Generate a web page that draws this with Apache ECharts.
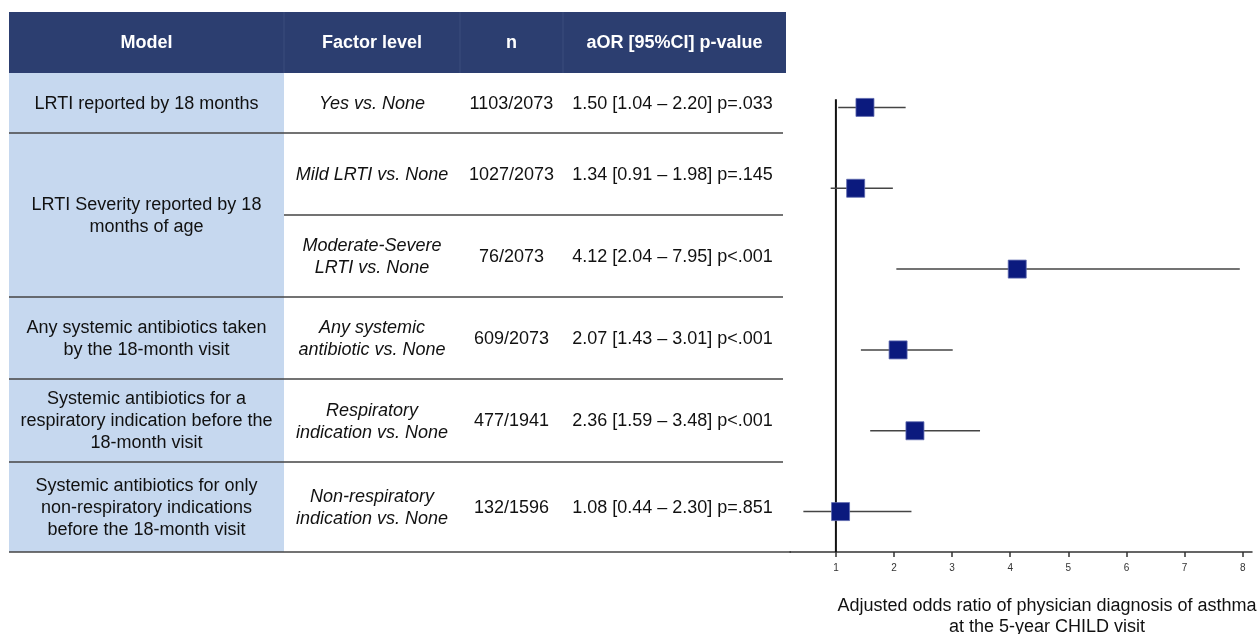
<!DOCTYPE html>
<html>
<head>
<meta charset="utf-8">
<script src="https://cdn.jsdelivr.net/npm/echarts@6/dist/echarts.min.js"></script>
<style>
	html, body { margin: 0; padding: 0; background: #fff; }
	#forest-chart { width: 1257px; height: 634px; }
</style>
</head>
<body>
<div id="forest-chart"></div>
<script>
var headers = ['Model', 'Factor level', 'n', 'aOR [95%CI] p-value'];
var models = [
	'LRTI reported by 18 months',
	'LRTI Severity reported by 18\nmonths of age',
	'Any systemic antibiotics taken\nby the 18-month visit',
	'Systemic antibiotics for a\nrespiratory indication before the\n18-month visit',
	'Systemic antibiotics for only\nnon-respiratory indications\nbefore the 18-month visit'
];
// how many factor rows each model spans
var modelSpans = [1, 2, 1, 1, 1];
var factors = [
	'Yes vs. None',
	'Mild LRTI vs. None',
	'Moderate-Severe\nLRTI vs. None',
	'Any systemic\nantibiotic vs. None',
	'Respiratory\nindication vs. None',
	'Non-respiratory\nindication vs. None'
];
var nCounts = ['1103/2073', '1027/2073', '76/2073', '609/2073', '477/1941', '132/1596'];
var aor = [1.50, 1.34, 4.12, 2.07, 2.36, 1.08];
var ciLow = [1.04, 0.91, 2.04, 1.43, 1.59, 0.44];
var ciHigh = [2.20, 1.98, 7.95, 3.01, 3.48, 2.30];
var pValues = ['p=.033', 'p=.145', 'p<.001', 'p<.001', 'p<.001', 'p=.851'];
var xTicks = [1, 2, 3, 4, 5, 6, 7, 8];
var axisTitle = 'Adjusted odds ratio of physician diagnosis of asthma\nat the 5-year CHILD visit';

function buildTable(){
	var colX = [9, 284, 460, 563, 786];
	var headTop = 12, headBottom = 73;
	var rowY = [73, 133, 215, 297, 379, 462, 552];
	var font = '18px "Liberation Sans", Arial, sans-serif';
	var els = [];

	els.push({ type: 'rect', shape: { x: colX[0], y: headTop, width: colX[4] - colX[0], height: headBottom - headTop }, style: { fill: '#2c3e70' }, silent: true });
	for (var c = 1; c < 4; c++) {
		els.push({ type: 'line', shape: { x1: colX[c], y1: headTop, x2: colX[c], y2: headBottom }, style: { stroke: '#3b4d7d', lineWidth: 1 }, silent: true });
	}
	for (var h = 0; h < headers.length; h++) {
		els.push({ type: 'text', style: { text: headers[h], x: (colX[h] + colX[h + 1]) / 2, y: (headTop + headBottom) / 2 + 1, align: 'center', verticalAlign: 'middle', font: 'bold ' + font, fill: '#fff' }, silent: true });
	}
	// light blue model column
	els.push({ type: 'rect', shape: { x: colX[0], y: rowY[0], width: colX[1] - colX[0], height: rowY[rowY.length - 1] - rowY[0] }, style: { fill: '#c6d8ef' }, silent: true });

	// factor rows
	for (var i = 0; i < factors.length; i++) {
		var cy = (rowY[i] + rowY[i + 1]) / 2 + 1;
		var label = aor[i].toFixed(2) + ' [' + ciLow[i].toFixed(2) + ' \u2013 ' + ciHigh[i].toFixed(2) + '] ' + pValues[i];
		els.push({ type: 'text', style: { text: factors[i], x: (colX[1] + colX[2]) / 2, y: cy, align: 'center', verticalAlign: 'middle', font: 'italic ' + font, fill: '#111', lineHeight: 22 }, silent: true });
		els.push({ type: 'text', style: { text: nCounts[i], x: (colX[2] + colX[3]) / 2, y: cy, align: 'center', verticalAlign: 'middle', font: font, fill: '#111' }, silent: true });
		els.push({ type: 'text', style: { text: label, x: (colX[3] + colX[4]) / 2 - 2, y: cy, align: 'center', verticalAlign: 'middle', font: font, fill: '#111' }, silent: true });
	}

	// model cells and separating lines
	var r = 0;
	for (var m = 0; m < models.length; m++) {
		var top = rowY[r], bottom = rowY[r + modelSpans[m]];
		els.push({ type: 'text', style: { text: models[m], x: (colX[0] + colX[1]) / 2, y: (top + bottom) / 2 + 1, align: 'center', verticalAlign: 'middle', font: font, fill: '#111', lineHeight: 22 }, silent: true });
		for (var k = 1; k < modelSpans[m]; k++) {
			els.push({ type: 'line', shape: { x1: colX[1], y1: rowY[r + k], x2: 783, y2: rowY[r + k] }, style: { stroke: '#444', lineWidth: 1.5 }, silent: true });
		}
		els.push({ type: 'line', shape: { x1: colX[0], y1: bottom, x2: m === models.length - 1 ? 791 : 783, y2: bottom }, style: { stroke: '#444', lineWidth: 1.5 }, silent: true });
		r += modelSpans[m];
	}

	els.push({ type: 'text', style: { text: axisTitle, x: 1047, y: 617, align: 'center', verticalAlign: 'middle', font: font, fill: '#111', lineHeight: 21 }, silent: true });
	return els;
}

function forestChart(){
	var chart = echarts.init(document.getElementById('forest-chart'));
	var points = [], bars = [];
	for (var i = 0; i < aor.length; i++) {
		points.push([aor[i], i + 0.5]);
		bars.push([ciLow[i], ciHigh[i], i + 0.5]);
	}
	var option = {
		animation: false,
		grid: { left: 790, right: 5, top: 67, height: 485 },
		xAxis: {
			type: 'value',
			position: 'bottom',
			min: 0.21,
			max: 8.16,
			splitLine: { show: false },
			axisLine: { onZero: false, lineStyle: { color: '#333', width: 1.5 } },
			axisTick: { customValues: xTicks, length: 5, lineStyle: { color: '#333', width: 1.5 } },
			axisLabel: { customValues: xTicks, fontSize: 10, color: '#333', margin: 11, fontFamily: '"Liberation Sans", Arial, sans-serif' }
		},
		yAxis: {
			type: 'value',
			min: 0,
			max: 6,
			inverse: true,
			show: false
		},
		graphic: buildTable(),
		series: [{
			name: 'null line',
			type: 'line',
			data: [[1, 0.4], [1, 6]],
			symbol: 'none',
			lineStyle: { color: '#111', width: 2 },
			z: 2
		}, {
			name: 'CI',
			type: 'custom',
			data: bars,
			renderItem: function (params, api) {
				var a = api.coord([api.value(0), api.value(2)]);
				var b = api.coord([api.value(1), api.value(2)]);
				return { type: 'line', shape: { x1: a[0], y1: a[1], x2: b[0], y2: b[1] }, style: { stroke: '#444', lineWidth: 1.5 } };
			},
			z: 3
		}, {
			name: 'aOR',
			type: 'scatter',
			data: points,
			symbol: 'rect',
			symbolSize: 18,
			itemStyle: { color: '#0b1a7e', borderColor: '#5e6aae', borderWidth: 0.8, opacity: 1 },
			z: 4
		}]
	};
	chart.setOption(option);
}

forestChart();
</script>
</body>
</html>
